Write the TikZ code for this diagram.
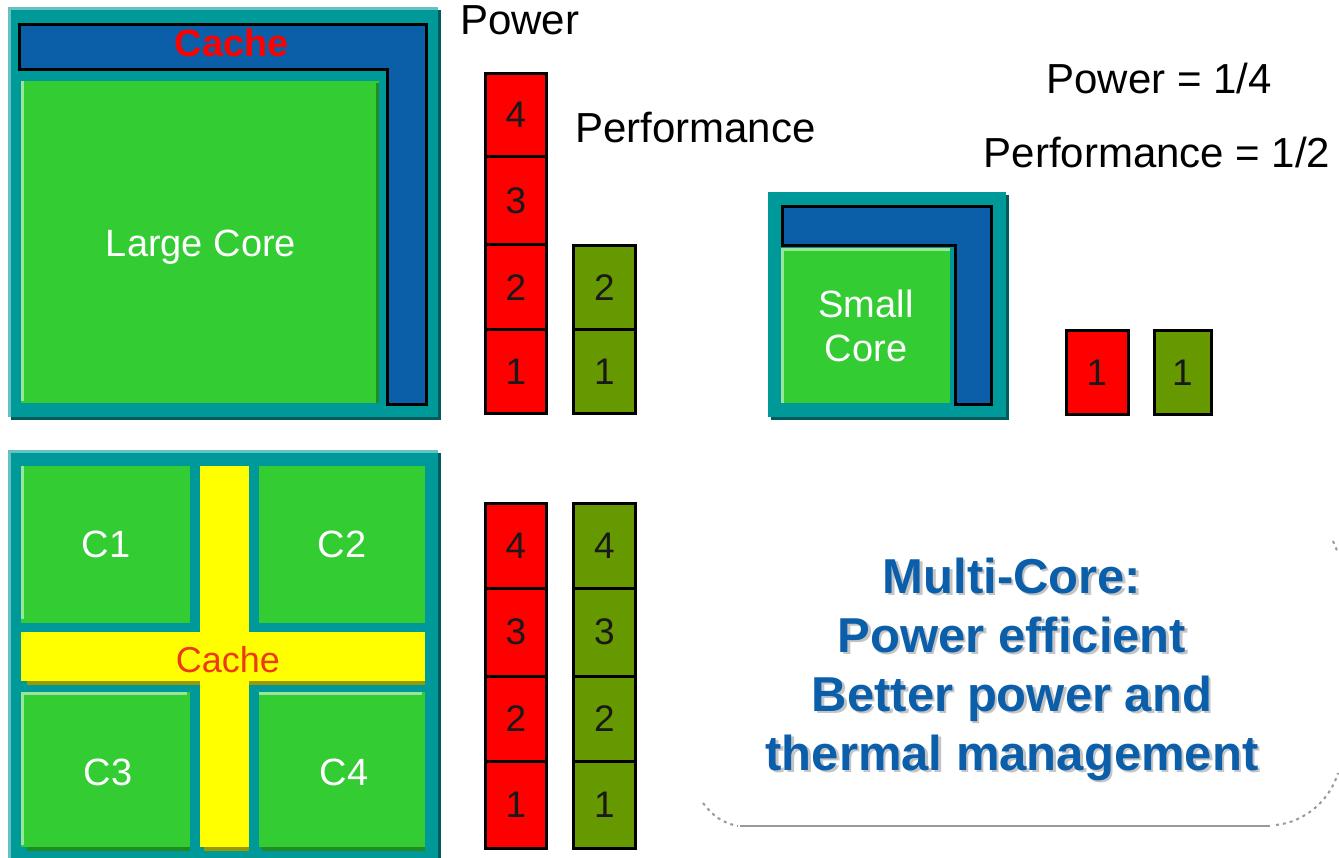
\documentclass[tikz,border=0pt]{standalone}
\usepackage{fontspec}
\setmainfont{Liberation Sans}
\definecolor{tealmain}{HTML}{009999}
\definecolor{teallight}{HTML}{66C2C2}
\definecolor{tealdark}{HTML}{005C5C}
\definecolor{cacheblue}{HTML}{0A5FA8}
\definecolor{coregreen}{HTML}{33CC33}
\definecolor{greenlight}{HTML}{99E699}
\definecolor{greendark}{HTML}{228B22}
\definecolor{barred}{HTML}{FF0000}
\definecolor{bargreen}{HTML}{669900}
\definecolor{cacheyellow}{HTML}{FFFF00}
\definecolor{oliveshade}{HTML}{999900}
\definecolor{msgblue}{HTML}{0B5EAA}
\definecolor{msgshade}{HTML}{C4C4C4}
\definecolor{callgray}{HTML}{999999}
\definecolor{cachered}{HTML}{EE3A14}
\newcommand\myrect[6]{\node[box,#1,minimum width={#5-#3},minimum height={#6-#4}] (#2) at (#3,#4) {};}
\newcommand\mycell[7]{\node[box,#1,minimum width={#5-#3},minimum height={#6-#4}] (#2) at (#3,#4) {#7};}
\begin{document}
\begin{tikzpicture}[x=1pt,y=-1pt,
  box/.style={inner sep=0pt, outer sep=0pt, anchor=north west},
  lbl/.style={inner sep=0pt, anchor=base},
  corelbl/.style={lbl, text=white, font=\fontsize{38}{40}\selectfont},
  blacklbl/.style={lbl, text=black, font=\fontsize{42}{44}\selectfont},
  cell/.style={draw=black, line width=3pt, font=\fontsize{37}{40}\selectfont, text=black!90},
  redcell/.style={cell, fill=barred},
  greencell/.style={cell, fill=bargreen},
  msg/.style={lbl, text=msgblue, font=\bfseries\fontsize{49}{52}\selectfont},
  msgsh/.style={lbl, text=msgshade, font=\bfseries\fontsize{49}{52}\selectfont},
  callout/.style={draw=callgray, line width=2pt},
  calldots/.style={callout, dash pattern=on 3pt off 4pt},
]
\useasboundingbox (0,0) rectangle (1339,858);
\fill[white] (0,0) rectangle (1339,858);

% ---------- large core chip ----------
\myrect{fill=tealdark}{chipAshadow}{11}{10}{441}{420}
\myrect{fill=tealmain}{chipA}{8}{7}{438}{417}
\fill[teallight] (8,7) rectangle (438,10);
\fill[teallight] (8,7) rectangle (11,417);
\filldraw[fill=cacheblue, draw=black, line width=3pt]
  (19.5,25) -- (426.5,25) -- (426.5,405) -- (387.5,405) -- (387.5,70) -- (19.5,70) -- cycle;
\myrect{fill=coregreen}{largecore}{21}{81}{379}{403}
\fill[greenlight] (21,81) rectangle (24,401);
\fill[greendark] (376,83) rectangle (379,403);
\node[corelbl] (largelbl) at (201,257) {Large Core};
\node[lbl, text=red, font=\bfseries\fontsize{38}{40}\selectfont] (cacheA) at (232,57) {Cache};

% ---------- small core chip ----------
\myrect{fill=tealdark}{chipCshadow}{771}{195}{1009}{420}
\myrect{fill=tealmain}{chipC}{768}{192}{1006}{417}
\filldraw[fill=cacheblue, draw=black, line width=3pt]
  (782.5,206.5) -- (991,206.5) -- (991,405) -- (955,405) -- (955,245.5) -- (782.5,245.5) -- cycle;
\myrect{fill=coregreen}{smallcore}{781}{248}{950}{403}
\fill[greenlight] (781,248) rectangle (950,251);
\fill[greenlight] (781,248) rectangle (784,403);
\node[corelbl] (smalllbl) at (866,318) {Small};
\node[corelbl] (smalllbltwo) at (866,362) {Core};

% ---------- multi core chip ----------
\myrect{fill=tealdark}{chipBshadow}{11}{453}{441}{861}
\myrect{fill=tealmain}{chipB}{8}{450}{438}{858}
\fill[teallight] (8,450) rectangle (438,453);
\fill[teallight] (8,450) rectangle (11,858);
\myrect{fill=coregreen}{cone}{21}{466}{190}{623}
\fill[greenlight] (21,466) rectangle (24,619);
\myrect{fill=coregreen}{ctwo}{259}{466}{425}{623}
\myrect{fill=oliveshade}{hcacheshadow}{27}{681}{425}{685}
\myrect{fill=cacheyellow}{hcache}{21}{632}{425}{681}
\myrect{fill=oliveshade}{vcacheshadow}{204}{847}{249}{851}
\myrect{fill=cacheyellow}{vcache}{200}{466}{249}{847}
\myrect{fill=greendark}{cthreeshadow}{27}{847}{190}{851}
\myrect{fill=coregreen}{cthree}{21}{692}{190}{847}
\fill[greenlight] (21,692) rectangle (187,695);
\fill[greenlight] (21,692) rectangle (24,845);
\myrect{fill=greendark}{cfourshadow}{262}{847}{425}{851}
\myrect{fill=coregreen}{cfour}{259}{692}{425}{847}
\fill[greenlight] (259,692) rectangle (422,695);
\node[corelbl] (conelbl) at (106,557) {C1};
\node[corelbl] (ctwolbl) at (342,557) {C2};
\node[corelbl] (cthreelbl) at (108,785) {C3};
\node[corelbl] (cfourlbl) at (344,785) {C4};
\node[lbl, text=cachered, font=\fontsize{36}{40}\selectfont] (cacheB) at (228,672) {Cache};

% ---------- bars, large core ----------
\mycell{redcell}{pa4}{485.5}{73.5}{546.5}{157}{4}
\mycell{redcell}{pa3}{485.5}{157}{546.5}{245}{3}
\mycell{redcell}{pa2}{485.5}{245}{546.5}{330}{2}
\mycell{redcell}{pa1}{485.5}{330}{546.5}{413.5}{1}
\mycell{greencell}{fa2}{573.5}{245.5}{635.5}{330}{2}
\mycell{greencell}{fa1}{573.5}{330}{635.5}{413.5}{1}

% ---------- bars, small core ----------
\mycell{redcell}{pc1}{1066}{331}{1128}{415}{1}
\mycell{greencell}{fc1}{1154}{331}{1211}{415}{1}

% ---------- bars, multi core ----------
\mycell{redcell}{pb4}{485.5}{503.5}{546.5}{588}{4}
\mycell{redcell}{pb3}{485.5}{588}{546.5}{676}{3}
\mycell{redcell}{pb2}{485.5}{676}{546.5}{761}{2}
\mycell{redcell}{pb1}{485.5}{761}{546.5}{848.5}{1}
\mycell{greencell}{fb4}{573.5}{503.5}{635.5}{588}{4}
\mycell{greencell}{fb3}{573.5}{588}{635.5}{676}{3}
\mycell{greencell}{fb2}{573.5}{676}{635.5}{761}{2}
\mycell{greencell}{fb1}{573.5}{761}{635.5}{848.5}{1}

% ---------- labels ----------
\node[blacklbl, anchor=base west] (powerlbl) at (460,35) {Power};
\node[blacklbl, anchor=base west] (perflbl) at (575,143) {Performance};
\node[blacklbl] (powerq) at (1159,94) {Power = 1/4};
\node[blacklbl] (perfh) at (1157,168) {Performance = 1/2};

% ---------- callout ----------
\draw[calldots] (703,803) .. controls (712,815) and (722,823) .. (738,826);
\draw[callout] (740,826) -- (1270,826);
\draw[calldots] (1276,825) .. controls (1305,822) and (1330,800) .. (1338,773);
\draw[calldots] (1333,541) -- (1338,553);

\node[msgsh] (msgashadow) at (1014.5,595.5) {Multi-Core:};
\node[msgsh] (msgbshadow) at (1014.5,654.5) {Power efficient};
\node[msgsh] (msgcshadow) at (1014.5,713.5) {Better power and};
\node[msgsh] (msgdshadow) at (1014.5,772.5) {thermal management};
\node[msg] (msga) at (1012,593) {Multi-Core:};
\node[msg] (msgb) at (1012,652) {Power efficient};
\node[msg] (msgc) at (1012,711) {Better power and};
\node[msg] (msgd) at (1012,770) {thermal management};
\end{tikzpicture}
\end{document}
